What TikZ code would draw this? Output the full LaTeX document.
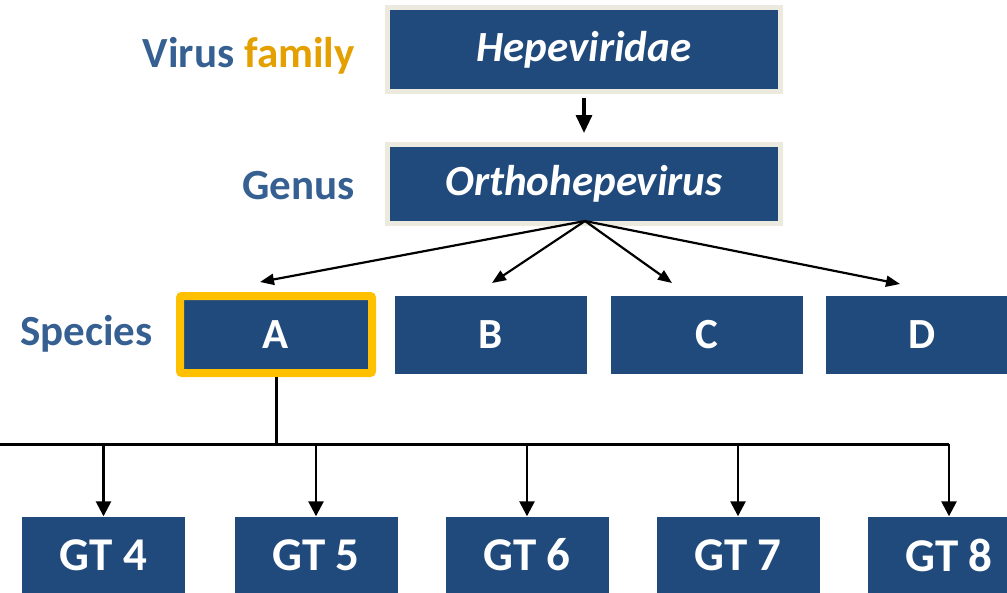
\documentclass[tikz,border=0pt]{standalone}
\usepackage{fontspec}
\setmainfont{Carlito}
\usetikzlibrary{arrows.meta}
\definecolor{boxblue}{RGB}{33,74,124}
\definecolor{lblblue}{RGB}{54,96,146}
\definecolor{famorange}{RGB}{228,160,0}
\definecolor{beige}{RGB}{236,233,222}
\definecolor{gold}{RGB}{255,192,0}
\begin{document}
\begin{tikzpicture}[x=1pt,y=-1pt,
  txt/.style={font=\fontsize{43}{50}\selectfont\bfseries},
  bluebox/.style={txt,fill=boxblue,text=white,inner sep=0pt,draw=none},
  topbox/.style={bluebox,draw=beige,line width=5pt,minimum width=393pt},
  spbox/.style={bluebox,minimum width=192pt,minimum height=78pt},
  gtbox/.style={bluebox,font=\fontsize{47}{54}\selectfont\bfseries,minimum width=163pt,minimum height=77pt},
  lbl/.style={txt,text=lblblue,inner sep=0pt},
  conn/.style={line width=3pt},
  fan/.style={line width=2.2pt,-{Triangle[length=14pt,width=11pt]}},
  drop/.style={line width=2.6pt,-{Triangle[length=15pt,width=15pt]}}
]
\useasboundingbox (0,0) rectangle (1007,592);
\begin{scope}
\clip (0,0) rectangle (1007,592);
\node[topbox,minimum height=84pt] (hep) at (584,49.5) {\itshape Hepeviridae};
\node[topbox,minimum height=79pt] (orth) at (584,184) {\itshape Orthohepevirus};
\node[spbox,draw=gold,line width=8pt,rounded corners=2pt,minimum width=192pt,minimum height=77pt] (A) at (276,334.5) {A};
\node[spbox] (B) at (491,335) {B};
\node[spbox] (C) at (707,335) {C};
\node[spbox] (D) at (922,335) {D};
\node[gtbox] (g4) at (103.5,555) {GT 4};
\node[gtbox] (g5) at (316,555) {GT 5};
\node[gtbox] (g6) at (527,555) {GT 6};
\node[gtbox] (g7) at (738,555) {GT 7};
\node[gtbox] (g8) at (949,555) {GT 8};

\node[lbl,anchor=base east] (lvf) at (355,67) {Virus \textcolor{famorange}{family}};
\node[lbl,anchor=base east] (lgen) at (355,199) {Genus};
\node[lbl,anchor=base west] (lsp) at (20,345) {Species};

\draw[line width=3.2pt,-{Triangle[length=18pt,width=16pt]},shorten <=4pt,shorten >=9pt] (hep.south) -- (orth.north);

\coordinate (apex) at (585,221);
\coordinate (eA) at (260,282);
\coordinate (eB) at (492,283);
\coordinate (eC) at (672,283);
\coordinate (eD) at (900,284);
\draw[fan] (apex) -- (eA);
\draw[fan] (apex) -- (eB);
\draw[fan] (apex) -- (eC);
\draw[fan] (apex) -- (eD);

\coordinate (bus) at (276,444);
\coordinate (busL) at (-5,444);
\coordinate (busR) at (949,444);
\draw[conn] (A.south) -- (bus);
\draw[conn] (busL) -- (busR);
\foreach \g in {g4,g5,g6,g7,g8}{
  \draw[drop] (\g.north |- bus) -- (\g.north);
}
\end{scope}
\end{tikzpicture}
\end{document}
